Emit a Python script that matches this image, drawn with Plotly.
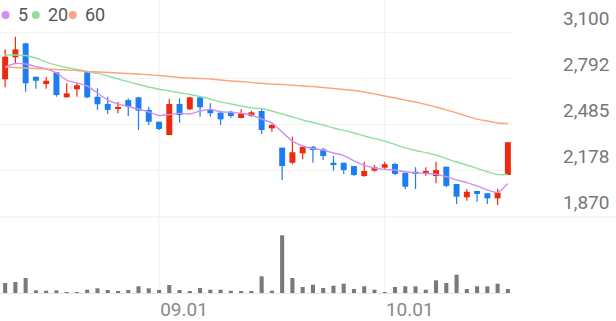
import plotly.graph_objects as go

dates = ["2025-08-08", "2025-08-11", "2025-08-12", "2025-08-13", "2025-08-14", "2025-08-18",
         "2025-08-19", "2025-08-20", "2025-08-21", "2025-08-22", "2025-08-25", "2025-08-26",
         "2025-08-27", "2025-08-28", "2025-08-29",
         "2025-09-01", "2025-09-02", "2025-09-03", "2025-09-04", "2025-09-05", "2025-09-08",
         "2025-09-09", "2025-09-10", "2025-09-11", "2025-09-12", "2025-09-15", "2025-09-16",
         "2025-09-17", "2025-09-18", "2025-09-19", "2025-09-22", "2025-09-23", "2025-09-24",
         "2025-09-25", "2025-09-26", "2025-09-29", "2025-09-30",
         "2025-10-01", "2025-10-02", "2025-10-10", "2025-10-13", "2025-10-14", "2025-10-15",
         "2025-10-16", "2025-10-17", "2025-10-20", "2025-10-21", "2025-10-22", "2025-10-23",
         "2025-10-24"]

open_ = [2784, 2931, 3024, 2801, 2752, 2831, 2663, 2717, 2831, 2667,
         2619, 2587, 2645, 2663, 2579, 2500, 2411, 2619, 2583, 2663,
         2583, 2561, 2567, 2525, 2538, 2572, 2456, 2327, 2226, 2289,
         2333, 2316, 2226, 2226, 2204, 2137, 2173, 2193, 2218, 2159,
         2166, 2155, 2137, 2200, 2084, 1995, 2037, 2022, 1988, 2144]
high = [2984, 3069, 3028, 2801, 2801, 2831, 2757, 2757, 2835, 2724,
        2667, 2634, 2657, 2667, 2601, 2500, 2652, 2657, 2667, 2667,
        2623, 2574, 2574, 2583, 2574, 2585, 2485, 2327, 2400, 2333,
        2338, 2327, 2271, 2226, 2204, 2233, 2211, 2233, 2226, 2159,
        2196, 2196, 2233, 2200, 2084, 2048, 2037, 2022, 2052, 2363]
low = [2730, 2891, 2701, 2721, 2721, 2667, 2663, 2667, 2657, 2579,
       2552, 2557, 2538, 2445, 2478, 2445, 2411, 2494, 2579, 2534,
       2534, 2478, 2527, 2523, 2534, 2418, 2434, 2111, 2216, 2249,
       2226, 2244, 2173, 2151, 2137, 2133, 2166, 2184, 2144, 2050,
       2050, 2139, 2089, 2062, 1950, 1972, 1966, 1950, 1943, 2144]
close = [2935, 2984, 2757, 2774, 2774, 2679, 2690, 2744, 2663, 2617,
         2579, 2597, 2601, 2574, 2500, 2452, 2619, 2545, 2663, 2597,
         2557, 2516, 2538, 2557, 2563, 2445, 2478, 2204, 2296, 2333,
         2311, 2271, 2216, 2177, 2144, 2171, 2196, 2216, 2151, 2066,
         2155, 2171, 2177, 2071, 1999, 2032, 2017, 1988, 2026, 2363]

ma5 = [2866, 2889, 2886, 2869, 2853, 2826, 2779, 2759, 2739, 2692,
       2645, 2619, 2602, 2585, 2565, 2542, 2548, 2556, 2552, 2572,
       2583, 2567, 2563, 2557, 2545, 2518, 2492, 2431, 2371, 2338,
       2321, 2311, 2291, 2274, 2238, 2208, 2191, 2182, 2177, 2166,
       2159, 2155, 2149, 2133, 2111, 2093, 2071, 2044, 2027, 2087]
ma20 = [2946, 2946, 2943, 2926, 2899, 2879, 2863, 2849, 2836, 2823,
        2806, 2786, 2768, 2749, 2732, 2717, 2706, 2694, 2682, 2669,
        2652, 2633, 2619, 2605, 2593, 2587, 2572, 2552, 2532, 2512,
        2495, 2478, 2458, 2442, 2425, 2405, 2388, 2371, 2348, 2325,
        2308, 2294, 2278, 2254, 2231, 2211, 2188, 2166, 2147, 2147]
ma60 = [2866, 2863, 2859, 2856, 2853, 2849, 2846, 2843, 2836, 2833,
        2829, 2826, 2823, 2819, 2814, 2809, 2803, 2796, 2793, 2789,
        2786, 2779, 2772, 2769, 2762, 2757, 2752, 2749, 2744, 2739,
        2736, 2729, 2722, 2716, 2709, 2699, 2686, 2672, 2659, 2645,
        2632, 2615, 2599, 2579, 2559, 2538, 2518, 2505, 2492, 2488]

volume = [100, 110, 150, 27, 23, 27, 10, 10, 33, 47,
          30, 17, 30, 67, 47, 30, 80, 30, 13, 50,
          33, 33, 23, 17, 18, 167, 23, 577, 150, 60,
          83, 50, 73, 93, 40, 67, 33, 10, 60, 67,
          67, 33, 127, 100, 183, 40, 67, 67, 93, 40]

y_ticks = [1870, 2177.5, 2485, 2792.5, 3100]
y_ticktext = ["1,870", "2,178", "2,485", "2,792", "3,100"]
x_ticks = ["2025-09-01", "2025-10-01"]
x_ticktext = ["09.01", "10.01"]
ma_names = ["5", "20", "60"]

UP = "#ec2a0e"
DOWN = "#1d7ef2"
MA_COLORS = ["#cd8ff2", "#93dea0", "#fba57f"]
VOL_COLOR = "#7a7a7a"

W, H = 616, 321
PLOT_W, PLOT_H = 513, 293

fig = go.Figure()

up = [c >= o for o, c in zip(open_, close)]
colors = [UP if u else DOWN for u in up]

# wicks
for flag, col in ((True, UP), (False, DOWN)):
    wx, wy = [], []
    for d, h, l, u in zip(dates, high, low, up):
        if u == flag:
            wx += [d, d, None]
            wy += [l, h, None]
    fig.add_trace(go.Scatter(x=wx, y=wy, mode="lines", line=dict(color=col, width=1.2),
                             hoverinfo="skip", showlegend=False, yaxis="y"))

# bodies
fig.add_trace(go.Bar(x=dates, y=[abs(c - o) for o, c in zip(open_, close)],
                     base=[min(o, c) for o, c in zip(open_, close)],
                     marker=dict(color=colors, line=dict(width=0)), width=0.58,
                     showlegend=False, yaxis="y"))

# moving averages
for name, vals, col in zip(ma_names, [ma5, ma20, ma60], MA_COLORS):
    fig.add_trace(go.Scatter(x=dates, y=vals, mode="lines", name=name,
                             line=dict(color=col, width=1.4, shape="spline", smoothing=0.6),
                             showlegend=False, yaxis="y"))

# volume
fig.add_trace(go.Bar(x=dates, y=volume, marker=dict(color=VOL_COLOR, line=dict(width=0)),
                     width=0.4, showlegend=False, yaxis="y2"))

price_bottom_px = 217
price_dom0 = (PLOT_H - price_bottom_px) / PLOT_H
px_per_won = 184 / 1230.0
y_top = 3100 + 32 / px_per_won
y_bot = 1870 - 1 / px_per_won

shapes = []
for d in x_ticks:
    shapes.append(dict(type="line", xref="x", yref="paper", x0=d, x1=d, y0=0, y1=1,
                       line=dict(color="#f0f0f0", width=1), layer="below"))
shapes.append(dict(type="line", xref="paper", yref="paper", x0=0, x1=W / PLOT_W,
                   y0=price_dom0, y1=price_dom0, line=dict(color="#ebebeb", width=1),
                   layer="below"))

# legend dots + text
legend_dot_px = [5.5, 35.8, 72.8]
legend_txt_px = [15.5, 46, 83]
ly = (PLOT_H - 15) / PLOT_H
annotations = []
for name, col, dx, tx in zip(ma_names, MA_COLORS, legend_dot_px, legend_txt_px):
    shapes.append(dict(type="circle", xref="paper", yref="paper", xsizemode="pixel",
                       ysizemode="pixel", xanchor=dx / PLOT_W, yanchor=ly,
                       x0=-4, x1=4, y0=-4, y1=4, fillcolor=col, line=dict(width=0)))
    annotations.append(dict(text=name, xref="paper", yref="paper", x=tx / PLOT_W, y=ly,
                            xanchor="left", yanchor="middle", showarrow=False,
                            font=dict(family="Roboto", size=18, color="#555555")))

fig.update_layout(
    width=W, height=H,
    margin=dict(l=0, r=W - PLOT_W, t=0, b=H - PLOT_H, autoexpand=False),
    paper_bgcolor="white", plot_bgcolor="white",
    barmode="overlay",
    showlegend=False,
    font=dict(family="Roboto", color="#777777"),
    xaxis=dict(type="category", categoryorder="array", categoryarray=dates,
               range=[-0.5, len(dates) - 0.5], tickvals=x_ticks, ticktext=x_ticktext,
               showgrid=False, ticks="", anchor="y2", showline=True, linecolor="#e6e6e6",
               tickfont=dict(family="Roboto", size=19, color="#888888"),
               ticklabelshift=25, ticklabelstandoff=-1, automargin=False, fixedrange=True),
    yaxis=dict(domain=[price_dom0, 1], range=[y_bot, y_top], side="right",
               tickvals=y_ticks, ticktext=y_ticktext, showgrid=True, gridcolor="#f2f2f2",
               zeroline=False, ticks="", ticklabelshift=-14, ticklabelstandoff=49,
               automargin=False,
               tickfont=dict(family="Roboto", size=19, color="#777777")),
    yaxis2=dict(domain=[0, 60 / PLOT_H], range=[0, 600], showticklabels=False,
                showgrid=False, zeroline=False, automargin=False),
    shapes=shapes,
    annotations=annotations,
)

fig.write_html("out.html")
